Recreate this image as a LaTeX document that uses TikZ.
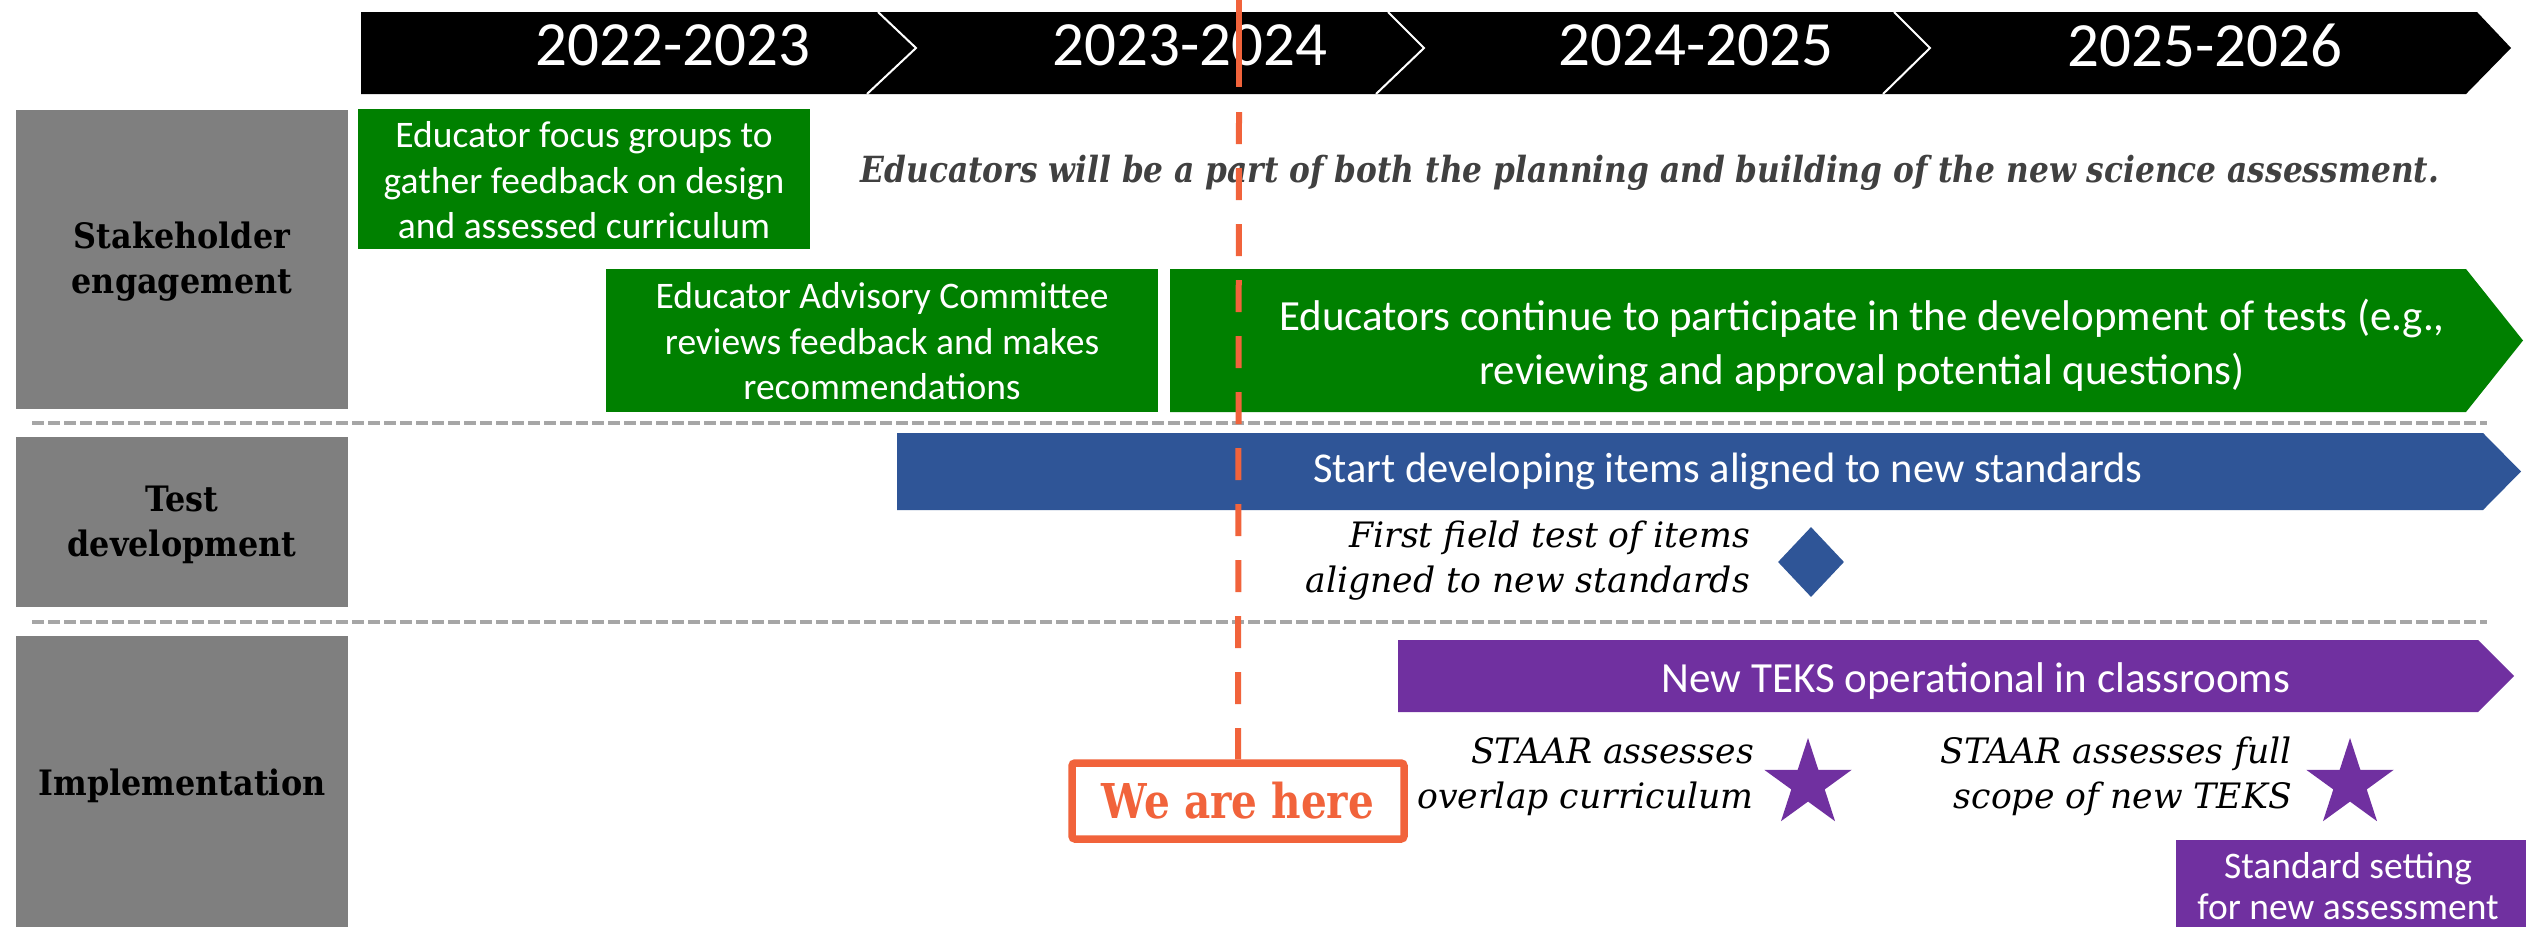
\documentclass[tikz,border=0pt]{standalone}
\usepackage{fontspec}
\usetikzlibrary{shapes.geometric}
\setmainfont{Carlito}
\newfontfamily\slabL[FakeStretch=0.91]{DejaVu Serif}
\newfontfamily\slabM[FakeStretch=0.868]{DejaVu Serif}
\newfontfamily\slabI[FakeStretch=0.99]{DejaVu Serif}
\newfontfamily\slabH[FakeStretch=0.845]{DejaVu Serif}
\definecolor{tgreen}{RGB}{0,128,0}
\definecolor{tblue}{RGB}{47,85,151}
\definecolor{tpurple}{RGB}{112,48,160}
\definecolor{tgray}{RGB}{127,127,127}
\definecolor{tdash}{RGB}{166,166,166}
\definecolor{torange}{RGB}{241,99,59}
\definecolor{tmsg}{RGB}{64,64,64}
\begin{document}
\begin{tikzpicture}[x=1pt,y=-1pt,
  lanebox/.style={fill=tgray,draw=none,minimum width=332pt,inner sep=0pt},
  lanetext/.style={inner sep=0pt,align=center,text=black,font=\slabL\bfseries\fontsize{35}{45}\selectfont},
  yeartext/.style={inner sep=0pt,text=white,font=\fontsize{63}{70}\selectfont},
  greenbox/.style={fill=tgreen,draw=none,inner sep=0pt},
  boxtext/.style={inner sep=0pt,align=center,text=white,font=\fontsize{37.5}{45.5}\selectfont},
  bandtext/.style={inner sep=0pt,align=center,text=white,font=\fontsize{43}{54}\selectfont},
  notetext/.style={inner sep=0pt,align=right,text=black,font=\slabI\itshape\fontsize{35}{45}\selectfont},
  sepline/.style={draw=tdash,line width=4pt,dash pattern=on 12pt off 4pt},
  chev/.style={draw=white,line width=2pt},
  starmark/.style={star,star points=5,star point ratio=2.618,fill=tpurple,draw=none,inner sep=0pt,minimum size=92pt},
]
\useasboundingbox (0,0) rectangle (2526,927);
\fill[white] (0,0) rectangle (2526,927);

% header band
\fill[black] (361,12) -- (2477,12) -- (2511,48) -- (2466,94) -- (361,94) -- cycle;
\draw[chev] (878,12) -- (916,48) -- (867,94);
\draw[chev] (1388,12) -- (1424,48) -- (1376,94);
\draw[chev] (1894,12) -- (1930,48) -- (1883,94);
\node[yeartext] (y1) at (673,45) {2022-2023};
\node[yeartext] (y2) at (1190,45) {2023-2024};
\node[yeartext] (y3) at (1696,45) {2024-2025};
\node[yeartext] (y4) at (2205,45) {2025-2026};

% lanes
\node[lanebox,minimum height=299pt] (lane1) at (182,259.5) {};
\node[lanetext] (lane1t) at (182,262) {Stakeholder\\engagement};
\node[lanebox,minimum height=170pt] (lane2) at (182,522) {};
\node[lanetext] (lane2t) at (182,525) {Test\\development};
\node[lanebox,minimum height=291pt] (lane3) at (182,781.5) {};
\node[lanetext] (lane3t) at (182,786) {Implementation};

% separators
\coordinate (s1a) at (32,423);
\coordinate (s1b) at (2487,423);
\coordinate (s2a) at (32,622);
\coordinate (s2b) at (2487,622);
\draw[sepline] (s1a) -- (s1b);
\draw[sepline] (s2a) -- (s2b);

% stakeholder engagement
\node[greenbox,minimum width=452pt,minimum height=140pt] (g1) at (584,179) {};
\node[boxtext] (g1t) at (584,180.5) {Educator focus groups to\\gather feedback on design\\and assessed curriculum};
\node[greenbox,minimum width=552pt,minimum height=143pt] (g2) at (882,340.5) {};
\node[boxtext] (g2t) at (882,341.5) {Educator Advisory Committee\\reviews feedback and makes\\recommendations};
\fill[tgreen] (1170,269) -- (2466,269) -- (2523,340.5) -- (2466,412) -- (1170,412) -- cycle;
\node[bandtext] (g3t) at (1862,345.5) {Educators continue to participate in the development of tests (e.g.,\\reviewing and approval potential questions)};
\node[inner sep=0pt,text=tmsg,font=\slabM\bfseries\itshape\fontsize{36}{45}\selectfont] (msg) at (1650,173) {Educators will be a part of both the planning and building of the new science assessment.};

% test development
\fill[tblue] (897,433) -- (2483,433) -- (2521,471.5) -- (2483,510) -- (897,510) -- cycle;
\node[bandtext,font=\fontsize{42.5}{53}\selectfont] (bt) at (1728,471.5) {Start developing items aligned to new standards};
\node[notetext,anchor=east] (ft) at (1750,561) {First field test of items\\aligned to new standards};
\node[diamond,fill=tblue,draw=none,inner sep=0pt,minimum width=66pt,minimum height=70pt] (dia) at (1811,562) {};

% implementation
\fill[tpurple] (1398,640) -- (2478,640) -- (2514,676) -- (2478,712) -- (1398,712) -- cycle;
\node[bandtext] (pt) at (1976,681) {New TEKS operational in classrooms};
\node[notetext,anchor=east] (st1) at (1754,776.5) {STAAR assesses\\overlap curriculum};
\node[notetext,anchor=east] (st2) at (2292,776) {STAAR assesses full\\scope of new TEKS};
\node[starmark] (star1) at (1808,784) {};
\node[starmark] (star2) at (2350,784) {};
\node[fill=tpurple,draw=none,inner sep=0pt,minimum width=350pt,minimum height=87pt] (ss) at (2351,883.5) {};
\node[boxtext,font=\fontsize{37.5}{41}\selectfont] (sst) at (2348,886.5) {Standard setting\\for new assessment};

% we are here
\node[draw=torange,line width=7.5pt,rounded corners=3pt,fill=white,minimum width=332pt,minimum height=76pt,inner sep=0pt,text=torange,font=\slabH\bfseries\fontsize{48}{50}\selectfont] (here) at (1238,801) {We are here};
\coordinate (vtop) at (1239,0);
\coordinate (vmid) at (1239,87);
\coordinate (vdash) at (1239,112);
\draw[torange,line width=6pt] (vtop) -- (vmid);
\draw[torange,line width=6pt,dash pattern=on 32pt off 24pt] (vdash) -- (here.north);
\end{tikzpicture}
\end{document}
